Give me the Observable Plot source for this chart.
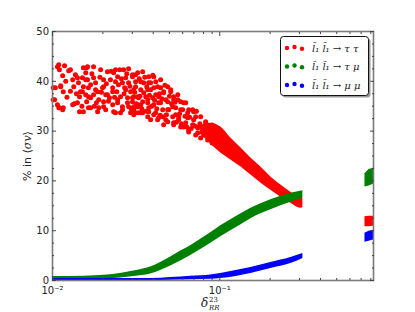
<!DOCTYPE html>
<html><head><meta charset="utf-8">
<script src="https://cdn.jsdelivr.net/npm/d3@7"></script>
<script src="https://cdn.jsdelivr.net/npm/@observablehq/plot@0.6"></script>
<style>
html,body{margin:0;padding:0;background:#fff;}
#chart{width:415px;height:312px;}
</style>
</head><body><div id="chart"></div>
<script>
// ---- tick values and labels ----
const xMajor = [0.01, 0.1];
const xMinor = [0.02,0.03,0.04,0.05,0.06,0.07,0.08,0.09,0.2,0.3,0.4,0.5,0.6,0.7,0.8];
const xTickLabels = ["10\u207B\u00B2", "10\u207B\u00B9"];
const yMajor = [0, 10, 20, 30, 40, 50];
const yMinor = [2.5,5,7.5,12.5,15,17.5,22.5,25,27.5,32.5,35,37.5,42.5,45,47.5];

// ---- series names ----
const seriesNames = ["l\u0303\u2081 l\u0303\u2081 \u2192 \u03C4 \u03C4", "l\u0303\u2081 l\u0303\u2081 \u2192 \u03C4 \u03BC", "l\u0303\u2081 l\u0303\u2081 \u2192 \u03BC \u03BC"];
const seriesColors = ["#ff0000", "#008000", "#0000ff"];

// ---- red (tau tau) scattered points: delta, percent ----
const redDelta = [
0.0107,0.0118,0.0125,0.0110,0.0104,0.0112,0.0101,0.0109,0.0115,0.0132,0.0137,0.0132,0.0141,0.0145,0.0153,0.0162,0.0158,0.0169,0.0151,0.0164,
0.0176,0.0194,0.0181,0.0189,0.0164,0.0186,0.0213,0.0202,0.0213,0.0202,0.0232,0.0238,0.0229,0.0245,0.0238,0.0252,0.0266,0.0285,0.0262,0.0274,
0.0255,0.0281,0.0262,0.0301,0.0314,0.0306,0.0323,0.0306,0.0346,0.0337,0.0351,0.0346,0.0337,0.0376,0.0386,0.0371,0.0376,0.0371,0.0403,0.0425,
0.0414,0.0431,0.0403,0.0425,0.0443,0.0462,0.0475,0.0488,0.0456,0.0488,0.0509,0.0530,0.0523,0.0545,0.0530,0.0561,0.0584,0.0568,0.0584,0.0608,
0.0643,0.0626,0.0652,0.0689,0.0698,0.0738,0.0718,0.0769,0.0791,0.0802,0.0847,0.0824,0.0859,
0.0109,0.0115,0.0101,0.0112,0.0116,0.0103,0.0107,0.0110,0.0116,0.0128,0.0141,0.0134,0.0143,0.0147,0.0135,0.0145,0.0160,0.0158,0.0151,0.0162,
0.0153,0.0164,0.0158,0.0169,0.0160,0.0169,0.0153,0.0176,0.0181,0.0186,0.0176,0.0183,0.0189,0.0202,0.0199,0.0208,0.0202,0.0208,0.0222,0.0229,
0.0219,0.0229,0.0232,0.0238,0.0245,0.0248,0.0242,0.0245,0.0262,0.0255,0.0274,0.0285,0.0270,0.0293,0.0281,0.0301,0.0285,0.0306,0.0293,0.0314,
0.0323,0.0327,
0.0301,0.0323,0.0376,0.0314,0.0351,0.0386,0.0414,0.0306,0.0337,0.0371,0.0403,0.0443,0.0488,0.0301,0.0327,0.0361,0.0397,0.0431,0.0462,0.0509,
0.0561,0.0306,0.0337,0.0371,0.0403,0.0443,0.0488,0.0530,0.0584,0.0626,0.0314,0.0346,0.0376,0.0414,0.0456,0.0495,0.0545,0.0600,0.0652,0.0698,
0.0386,0.0431,0.0475,0.0523,0.0568,0.0643,0.0718,0.0462,0.0530,0.0608,0.0689,0.0748,0.0824,0.0652,0.0738,0.0802,0.0883,0.0769,0.0859,0.0946,
0.0921,0.0987,
0.0120,0.0122,0.0128,0.0139,0.0150,0.0172,0.0178,0.0192,0.0196,0.0210,0.0216,0.0224,0.0235,0.0258,0.0268,0.0278,0.0290,0.0296,0.0310,0.0318,
0.0330,0.0333,0.0342,0.0356,0.0362,0.0366,0.0380,0.0392,0.0398,0.0408,0.0420,0.0436,0.0440,0.0450,0.0470,0.0480,0.0500,0.0515,0.0540,0.0550,
0.0575,0.0590,0.0620,0.0635,0.0660,0.0675,0.0710,0.0725,0.0760,0.0780,0.0810,0.0835,0.0870,0.0900,0.0900,0.0960,0.0975
];
const redPct = [
42.9,43.1,42.1,42.3,38.7,39.1,36.3,34.7,34.3,40.3,41.3,35.3,35.7,33.9,42.7,42.9,40.3,39.3,37.9,36.9,
42.9,42.3,38.3,36.3,34.7,33.9,41.9,38.9,37.3,34.9,41.7,39.9,37.9,36.3,33.7,42.3,42.3,42.5,39.7,38.3,
36.9,35.7,34.3,40.9,38.9,36.9,34.9,33.3,41.9,39.9,37.7,35.9,33.7,39.7,38.3,36.3,34.7,32.9,40.9,38.9,
37.3,35.7,33.3,32.3,40.3,37.9,36.3,34.3,32.9,31.9,38.3,36.9,34.9,33.3,31.7,36.3,34.3,32.3,30.8,35.7,
33.7,31.7,30.2,34.3,32.3,30.6,29.2,32.9,30.8,29.2,28.2,31.9,29.8,
43.3,41.1,38.7,38.9,37.9,36.3,35.3,34.7,34.7,42.3,40.7,38.9,39.7,37.9,35.5,36.9,42.7,41.7,40.7,40.3,
38.9,38.7,37.3,36.7,35.9,34.7,33.9,40.7,39.7,37.9,37.3,35.7,34.7,40.3,38.7,37.3,35.9,34.3,40.3,38.7,
36.7,35.3,33.9,42.3,40.9,39.3,37.9,35.7,34.9,33.7,40.7,39.7,38.7,37.9,36.7,35.9,34.9,34.3,33.7,41.3,
36.9,33.7,
41.3,41.7,40.9,39.9,39.7,39.7,39.9,38.3,38.3,38.3,38.7,38.7,38.9,36.7,36.7,36.9,36.7,36.9,37.7,37.9,
37.3,34.9,35.3,35.7,35.3,35.7,35.9,36.3,35.9,35.7,33.7,33.7,33.9,33.7,34.3,34.3,34.7,34.3,34.3,33.9,
32.3,32.7,32.3,32.9,32.7,32.7,32.9,31.3,31.3,30.8,31.3,30.8,31.7,29.8,29.6,29.8,30.2,28.6,28.6,29.2,
27.8,28.2,
40.0,36.8,38.0,37.5,35.0,41.5,35.0,40.8,37.8,39.5,36.0,42.0,36.8,40.5,37.5,41.5,39.0,34.5,37.8,35.5,
40.5,37.0,34.5,40.8,34.0,38.9,37.2,35.0,41.2,36.2,34.5,37.5,33.2,36.5,39.2,33.3,37.0,35.5,35.8,31.8,
33.5,31.5,33.0,30.8,32.8,30.5,31.0,34.0,31.5,29.8,31.0,30.0,29.0,31.2,27.6,30.3,27.0
];

// ---- red dense band (lower / upper edge) ----
const redBandDelta = [0.0769, 0.0883, 0.1014, 0.1164, 0.134, 0.1535, 0.176, 0.202, 0.232, 0.266, 0.305, 0.314];
const redBandLo    = [29.4, 27.4, 25.6, 24.2, 22.8, 21.2, 19.6, 18.1, 16.7, 15.5, 14.5, 14.6];
const redBandHi    = [31.0, 31.6, 30.8, 28.6, 26.6, 24.6, 22.8, 20.8, 19.2, 17.7, 16.5, 16.4];

// ---- green (tau mu) band ----
const greenDelta = [0.0100, 0.0123, 0.0194, 0.0255, 0.0306, 0.0386, 0.0443, 0.0509, 0.0584, 0.0670, 0.0769, 0.0883, 0.1014, 0.1164, 0.134, 0.1535, 0.176, 0.202, 0.232, 0.266, 0.314];
const greenLo    = [0.2, 0.2, 0.3, 0.5, 0.8, 1.3, 2.0, 2.9, 3.9, 5.0, 6.2, 7.5, 8.8, 10.0, 11.2, 12.4, 13.4, 14.2, 15.0, 15.7, 16.5];
const greenHi    = [0.8, 0.8, 1.0, 1.4, 1.9, 2.7, 3.6, 4.7, 5.9, 7.0, 8.3, 9.6, 11.0, 12.2, 13.4, 14.5, 15.4, 16.2, 16.9, 17.5, 18.0];

// ---- blue (mu mu) band ----
const blueDelta = [0.0100, 0.0386, 0.0509, 0.0670, 0.0883, 0.1014, 0.125, 0.1535, 0.202, 0.266, 0.314];
const blueLo    = [0.0, 0.0, 0.05, 0.15, 0.25, 0.4, 0.8, 1.4, 2.4, 3.4, 4.4];
const blueHi    = [0.4, 0.4, 0.6, 0.85, 1.1, 1.4, 2.0, 2.6, 3.6, 4.6, 5.4];

// ---- clusters at the right edge ----
const edgeDelta = [0.738, 0.78, 0.84];
const edgeGreenLo = [18.8, 19.0, 19.4], edgeGreenHi = [21.4, 22.3, 22.6];
const edgeRedLo   = [10.8, 10.8, 10.9], edgeRedHi   = [12.8, 12.9, 12.9];
const edgeBlueLo  = [7.7, 7.9, 8.2],    edgeBlueHi  = [9.5, 9.9, 10.1];

const band = (xs, lo, hi) => xs.map((d, i) => ({x: d, lo: lo[i], hi: hi[i]}));
const redPts = redDelta.map((d, i) => ({x: d, y: redPct[i]}));

const tickCol = "#444";
const smooth = "monotone-x";
const chart = Plot.plot({
  width: 415, height: 312,
  marginLeft: 52, marginRight: 42, marginTop: 31, marginBottom: 32,
  style: {fontFamily: "DejaVu Sans", fontSize: "10px", color: "#222", background: "#fff", overflow: "visible"},
  x: {type: "log", domain: [0.01, 0.83], label: null},
  y: {domain: [0, 50], label: null},
  marks: [
    Plot.areaY(band(redBandDelta, redBandLo, redBandHi), {x: "x", y1: "lo", y2: "hi", fill: seriesColors[0], curve: smooth}),
    Plot.dot(redPts, {x: "x", y: "y", r: 2.5, fill: seriesColors[0], stroke: "none"}),
    Plot.areaY(band(greenDelta, greenLo, greenHi), {x: "x", y1: "lo", y2: "hi", fill: seriesColors[1], curve: smooth}),
    Plot.areaY(band(blueDelta, blueLo, blueHi), {x: "x", y1: "lo", y2: "hi", fill: seriesColors[2], curve: smooth}),
    Plot.areaY(band(edgeDelta, edgeGreenLo, edgeGreenHi), {x: "x", y1: "lo", y2: "hi", fill: seriesColors[1], clip: true}),
    Plot.areaY(band(edgeDelta, edgeRedLo, edgeRedHi), {x: "x", y1: "lo", y2: "hi", fill: seriesColors[0], clip: true}),
    Plot.areaY(band(edgeDelta, edgeBlueLo, edgeBlueHi), {x: "x", y1: "lo", y2: "hi", fill: seriesColors[2], clip: true}),
    Plot.frame({stroke: "#7a7a7a", strokeWidth: 1.6}),
    // inward ticks, all four sides
    Plot.axisX({ticks: xMajor, anchor: "bottom", tickSize: -4, fill: "none", stroke: tickCol, label: null}),
    Plot.axisX({ticks: xMinor, anchor: "bottom", tickSize: -2, fill: "none", stroke: tickCol, label: null}),
    Plot.axisX({ticks: xMajor, anchor: "top", tickSize: -4, fill: "none", stroke: tickCol, label: null}),
    Plot.axisX({ticks: xMinor, anchor: "top", tickSize: -2, fill: "none", stroke: tickCol, label: null}),
    Plot.axisY({ticks: yMajor, anchor: "left", tickSize: -4, fill: "none", stroke: tickCol, label: null}),
    Plot.axisY({ticks: yMinor, anchor: "left", tickSize: -2, fill: "none", stroke: tickCol, label: null}),
    Plot.axisY({ticks: yMajor, anchor: "right", tickSize: -4, fill: "none", stroke: tickCol, label: null}),
    Plot.axisY({ticks: yMinor, anchor: "right", tickSize: -2, fill: "none", stroke: tickCol, label: null}),
    // tick labels
    Plot.axisX({ticks: xMajor, anchor: "bottom", tickSize: 0, tickPadding: 6.5, tickFormat: d => xTickLabels[xMajor.indexOf(d)], label: null}),
    Plot.axisY({ticks: yMajor, anchor: "left", tickSize: 0, tickPadding: 3.5, label: null})
  ]
});
document.getElementById("chart").appendChild(chart);

// ---- axis titles and legend ----
const svg = d3.select(chart);
const math = "DejaVu Serif";
// y label: % in <σv>
const yl = svg.append("text").attr("transform", "translate(31,156) rotate(-90)")
  .attr("text-anchor", "middle").attr("font-size", 11).attr("fill", "#222");
yl.append("tspan").attr("font-family", "DejaVu Sans").text("% in ");
yl.append("tspan").attr("font-family", math).text("\u27E8");
yl.append("tspan").attr("font-family", math).attr("font-style", "italic").text("\u03C3v");
yl.append("tspan").attr("font-family", math).text("\u27E9");
// x label: δ^23_RR
svg.append("text").attr("x", 201).attr("y", 307).attr("text-anchor", "start").attr("font-family", math).attr("font-style", "italic")
  .attr("font-size", 12).attr("fill", "#222").text("\u03B4");
svg.append("text").attr("x", 209).attr("y", 302).attr("text-anchor", "start").attr("font-family", math)
  .attr("font-size", 7).attr("fill", "#222").text("23");
svg.append("text").attr("x", 209).attr("y", 310).attr("text-anchor", "start").attr("font-family", math).attr("font-style", "italic")
  .attr("font-size", 7).attr("fill", "#222").text("RR");

// legend
const lg = svg.append("g");
lg.append("rect").attr("x", 282.5).attr("y", 38.5).attr("width", 88).attr("height", 59).attr("rx", 3)
  .attr("fill", "#999").attr("stroke", "none");
lg.append("rect").attr("x", 280.5).attr("y", 36.5).attr("width", 88).attr("height", 59).attr("rx", 3)
  .attr("fill", "#fff").attr("stroke", "#111").attr("stroke-width", 1);
const rowY = [48, 66.5, 85];
const dotX = [287, 294.5, 302];
const dotDy = [0, -1, 0.7];
seriesNames.forEach((name, i) => {
  dotX.forEach((dx, j) => {
    lg.append("circle").attr("cx", dx).attr("cy", rowY[i] + dotDy[j]).attr("r", 2.2).attr("fill", seriesColors[i]);
  });
  lg.append("text").attr("x", 312).attr("y", rowY[i] + 3.5).attr("text-anchor", "start").attr("font-family", math).attr("font-style", "italic")
    .attr("font-size", 10).attr("fill", "#222").text(name);
});
</script>
</body></html>
